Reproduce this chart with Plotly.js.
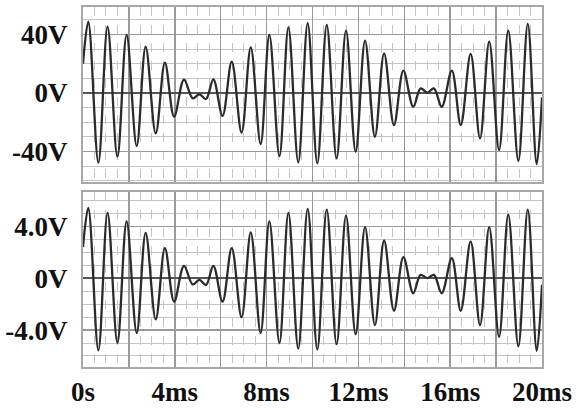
<!DOCTYPE html>
<html>
<head>
<meta charset="utf-8">
<script src="https://cdn.plot.ly/plotly-3.0.1.min.js"></script>
<style>
html,body{margin:0;padding:0;background:#fff;}
#chart{width:576px;height:410px;}
</style>
</head>
<body>
<div id="chart"></div>
<script>
// time (ms) of each turning point
var timeMs = [0, 0.23, 0.67, 1.07, 1.50, 1.90, 2.34, 2.73, 3.17, 3.57, 3.97, 4.40, 4.78, 5.07, 5.36, 5.68,
  6.08, 6.48, 6.91, 7.31, 7.74, 8.12, 8.56, 8.95, 9.38, 9.79, 10.21, 10.62, 11.05, 11.46, 11.88, 12.29,
  12.72, 13.12, 13.55, 13.96, 14.39, 14.71, 15.0, 15.29, 15.63, 16.07, 16.46, 16.89, 17.30, 17.70, 18.13,
  18.53, 18.97, 19.38, 19.77, 20.0];
// upper trace (V)
var upperV = [20, 48.8, -47.6, 45.4, -43.5, 39.7, -36.2, 31.7, -27.6, 20.7, -16.2, 9.2, -3.6, -0.9, -4.1, 9.3,
  -15.7, 21.4, -27.1, 31.2, -34.9, 39.7, -43.1, 44.9, -47.4, 47.7, -48.1, 46.5, -44.7, 42.6, -40.1, 35.8,
  -29.9, 27.1, -21.9, 15.3, -9.4, 3.2, 0.2, 3.2, -9.4, 15.3, -21.9, 26.7, -31.0, 35.1, -39.0,
  42.6, -46.3, 47.2, -48.6, -3];
// lower trace (V)
var lowerV = [2.4, 5.43, -5.56, 5.04, -4.99, 4.39, -4.22, 3.49, -3.18, 2.33, -1.81, 0.95, -0.48, -0.13, -0.52, 0.95,
  -1.81, 2.33, -3.02, 3.54, -4.22, 4.39, -4.99, 5.04, -5.43, 5.35, -5.5, 5.29, -5.09, 4.83, -4.32, 3.95,
  -3.62, 2.91, -2.51, 1.63, -1.16, 0.26, 0.0, 0.26, -1.16, 1.55, -2.51, 2.84, -3.62, 3.95, -4.53,
  4.91, -5.25, 5.29, -5.61, -0.5];

var xTickVals = [0, 2, 4, 6, 8, 10, 12, 14, 16, 18, 20];
var xTickText = ['0s', '', '4ms', '', '8ms', '', '12ms', '', '16ms', '', '20ms'];
var upperTickVals = [-40, 0, 40];
var upperTickText = ['-40V', '0V', '40V'];
var lowerTickVals = [-4, 0, 4];
var lowerTickText = ['-4.0V', '0V', '4.0V'];

var lineStyle = {color: '#2b2b2b', width: 2.3, shape: 'spline', smoothing: 1};
var traces = [
  {x: timeMs, y: upperV, xaxis: 'x2', yaxis: 'y2', mode: 'lines', line: lineStyle, hoverinfo: 'skip'},
  {x: timeMs, y: lowerV, xaxis: 'x', yaxis: 'y', mode: 'lines', line: lineStyle, hoverinfo: 'skip'}
];

var tickFont = {family: '"Liberation Serif", "Times New Roman", serif', size: 27, color: '#111', weight: 'bold'};
function xAxis(showLabels, anchor) {
  return {
    range: [0, 20], anchor: anchor,
    tickmode: 'array', tickvals: xTickVals, ticktext: showLabels ? xTickText : xTickVals.map(function(){return '';}),
    showticklabels: showLabels, ticks: '', tickfont: tickFont,
    showgrid: true, gridcolor: '#9a9a9a', gridwidth: 1.5,
    minor: {dtick: 0.5, showgrid: true, gridcolor: '#c4c4c4', gridwidth: 1, griddash: 'dash'},
    showline: true, mirror: true, linecolor: '#a8a8a8', linewidth: 2,
    zeroline: false, fixedrange: true
  };
}
function yAxis(range, vals, text, minorStep, domain, anchor) {
  return {
    range: range, domain: domain, anchor: anchor,
    tickmode: 'array', tickvals: vals, ticktext: text, ticks: '', tickfont: tickFont,
    ticklabelstandoff: 8,
    showgrid: true, gridcolor: '#9a9a9a', gridwidth: 1.5,
    minor: {dtick: minorStep, showgrid: true, gridcolor: '#c4c4c4', gridwidth: 1},
    zeroline: true, zerolinecolor: '#555', zerolinewidth: 1.5,
    showline: true, mirror: true, linecolor: '#a8a8a8', linewidth: 2,
    fixedrange: true
  };
}

var layout = {
  width: 576, height: 410,
  margin: {l: 83, r: 34, t: 7, b: 43},
  paper_bgcolor: '#fff', plot_bgcolor: '#fff',
  showlegend: false,
  xaxis: xAxis(true, 'y'),
  xaxis2: xAxis(false, 'y2'),
  yaxis: yAxis([-6.85, 6.65], lowerTickVals, lowerTickText, 1, [0, 0.486], 'x'),
  yaxis2: yAxis([-60.8, 58.8], upperTickVals, upperTickText, 10, [0.514, 1], 'x2')
};
layout.xaxis2.matches = 'x';

Plotly.newPlot('chart', traces, layout, {staticPlot: true, displayModeBar: false});
</script>
</body>
</html>
